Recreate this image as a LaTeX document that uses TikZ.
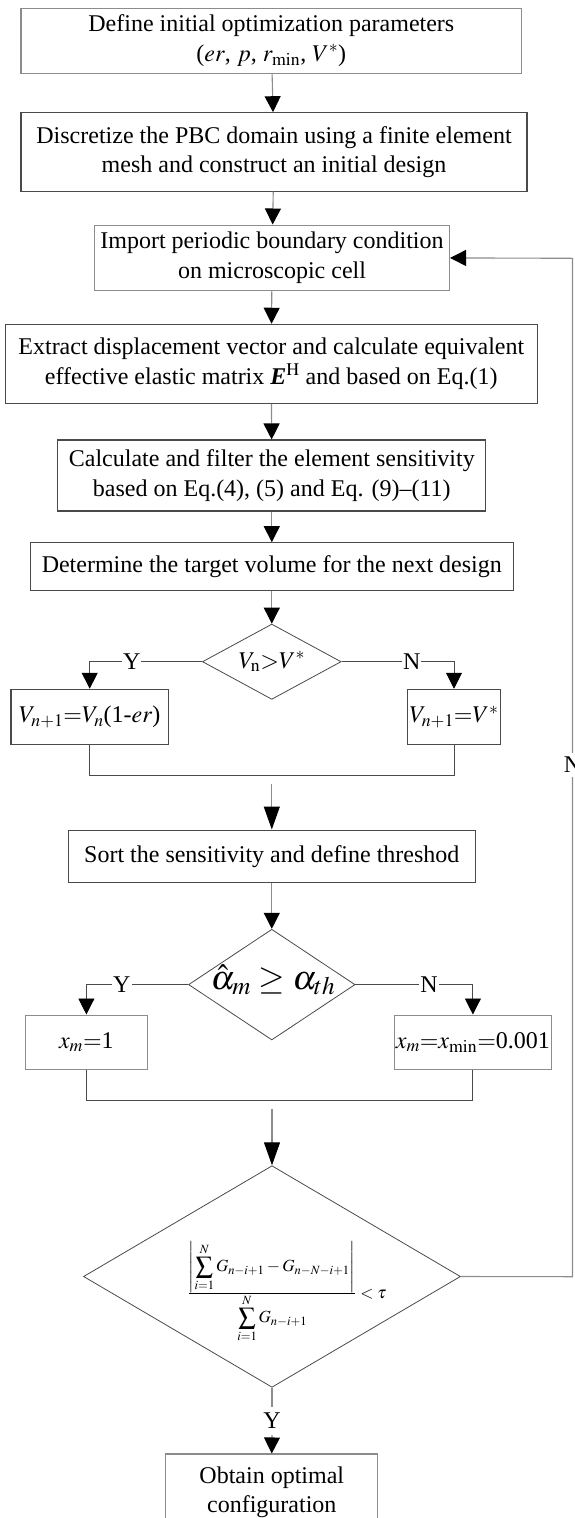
\documentclass[tikz,border=0pt]{standalone}
\usepackage{mathptmx}
\usepackage{fontspec}
\setmainfont{Liberation Serif}
\usetikzlibrary{arrows.meta,shapes.geometric}
\definecolor{lgray}{HTML}{8C8C8C}
\definecolor{dgray}{HTML}{4A4A4A}
\begin{document}
\begin{tikzpicture}[x=1pt,y=-1pt,
  box/.style={draw=#1, line width=1.1pt, rectangle, inner sep=0pt, align=center,
    font=\fontsize{24}{29.5}\selectfont},
  box/.default=dgray,
  dia/.style={draw=dgray, line width=0.8pt, diamond, inner sep=0pt},
  txt/.style={inner sep=0pt, align=center, font=\fontsize{24}{29.5}\selectfont},
  arr/.style={-{Triangle[width=16pt,length=16pt,color=black,fill=black]}},
  arrL/.style={-{Triangle[width=16pt,length=23pt,color=black,fill=black]}},
  lline/.style={draw=lgray, line width=1.1pt},
  dline/.style={draw=dgray, line width=0.9pt},
  lbl/.style={fill=white, inner xsep=1pt, inner ysep=1pt, font=\fontsize{24}{29}\selectfont}]
\useasboundingbox (0,0) rectangle (574,1518);

% process boxes
\node[box=lgray, minimum width=500.6pt, minimum height=65pt] (b1) at (271.3,40.8)
  {Define initial optimization parameters\\($er$, $p$, $r_{\min}$, $V^{*}$)};
\node[box, minimum width=506pt, minimum height=78.3pt] (b2) at (274,151.9)
  {Discretize the PBC domain using a finite element\\mesh and construct an initial design};
\node[box=lgray, minimum width=355pt, minimum height=65.7pt] (b3) at (272,257.9)
  {Import periodic boundary condition\\on microscopic cell};
\node[box, minimum width=531.5pt, minimum height=79pt] (b4) at (271.3,363.8)
  {Extract displacement vector and calculate equivalent\\effective elastic matrix \textbf{\textit{E}}$^{\mathrm{H}}$ and based on Eq.(1)};
\node[box, minimum width=428pt, minimum height=71pt] (b5) at (271.8,475.5)
  {Calculate and filter the element sensitivity\\based on Eq.(4), (5) and Eq. (9)--(11)};
\node[box, minimum width=482.8pt, minimum height=47.3pt] (b6) at (271.8,566.4)
  {Determine the target volume for the next design};

% decision 1
\node[dia, minimum width=138.7pt, minimum height=75.3pt] (d1) at (271.8,661.7) {};
\node[txt] (t1) at (271.8,661.7) {$V_{\mathrm{n}}\mathord{>}V^{*}$};
\node[box, minimum width=157.4pt, minimum height=55pt] (b7L) at (89.7,716.8)
  {$V_{n+1}\mathord{=}V_{n}$(1-$er$)};
\node[box, minimum width=93.3pt, minimum height=55pt] (b7R) at (454,716.8)
  {$V_{n+1}\mathord{=}V^{*}$};
\coordinate (j1L) at (89.7,775.7);
\coordinate (j1R) at (454,775.7);
\coordinate (j1) at (271.8,784.3);

\node[box, minimum width=406.7pt, minimum height=52.3pt] (b8) at (271.8,856.2)
  {Sort the sensitivity and define threshod};

% decision 2
\node[dia, minimum width=166.5pt, minimum height=110.7pt] (d2) at (271.8,984.6) {};
\node[txt, font=\fontsize{34}{38}\selectfont] (t2) at (273,980) {$\hat{\alpha}_{m}\geq\alpha_{th}$};
\node[box=lgray, minimum width=121.5pt, minimum height=54.3pt] (b9L) at (86.4,1042.2)
  {$x_{m}\mathord{=}$1};
\node[box=lgray, minimum width=157.4pt, minimum height=54.3pt] (b9R) at (472.9,1042.2)
  {$x_{m}\mathord{=}x_{\min}\mathord{=}$0.001};
\coordinate (j2L) at (86.4,1100.7);
\coordinate (j2R) at (472.9,1100.7);
\coordinate (j2) at (272,1109.3);

% decision 3
\node[dia, minimum width=377pt, minimum height=221.6pt] (d3) at (272,1276.5) {};
\node[txt, font=\fontsize{17}{21}\selectfont] (t3) at (287,1292)
  {$\frac{\displaystyle\left|\sum_{i=1}^{N}G_{n-i+1}-G_{n-N-i+1}\right|}{\displaystyle\sum_{i=1}^{N}G_{n-i+1}}<\tau$};

\node[box=lgray, minimum width=212pt, minimum height=76pt] (b10) at (271.8,1492)
  {Obtain optimal\\configuration};
\coordinate (fbB) at (572.5,1276.7);
\coordinate (fbT) at (572.5,258.3);

% connectors
\draw[lline,arr] (b1) -- (b2);
\draw[lline,arr] (b2) -- (b3);
\draw[lline,arr] (b3) -- (b4);
\draw[lline,arr] (b4) -- (b5);
\draw[lline,arr] (b5) -- (b6);
\draw[lline,arr] (b6) -- (d1.north);
\draw[dline,arr] (d1.west) -| (b7L.north);
\draw[dline,arr] (d1.east) -| (b7R.north);
\draw[dline] (b7L.south) -- (j1L) -- (j1R) -- (b7R.south);
\draw[lline,arrL] (j1) -- (b8.north);
\draw[lline,arr] (b8) -- (d2.north);
\draw[dline,arr] (d2.west) -| (b9L.north);
\draw[dline,arr] (d2.east) -| (b9R.north);
\draw[dline] (b9L.south) -- (j2L) -- (j2R) -- (b9R.south);
\draw[lline,arrL] (j2) -- (d3.north);
\node[lbl, inner ysep=6pt, fill=none] (yl) at (272,1421) {Y};
\draw[lline] (d3.south) -- (yl.north);
\draw[lline,arr] (yl.south) -- (b10.north);
\draw[lline,arr] (d3.east) -- (fbB) -- (fbT) -- (b3.east);

% labels
\node[lbl] (y1) at (131.8,661.7) {Y};
\node[lbl] (n1) at (411.8,661.7) {N};
\node[lbl] (y2) at (121.9,984.3) {Y};
\node[lbl] (n2) at (429,984.3) {N};
\node[lbl, inner ysep=4pt] (n3) at (572.5,765) {N};
\end{tikzpicture}
\end{document}
